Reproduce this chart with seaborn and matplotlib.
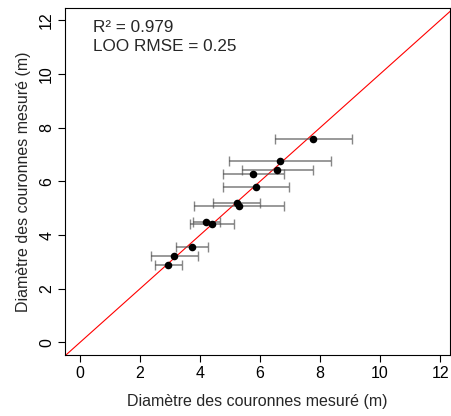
import matplotlib
matplotlib.use("Agg")
import matplotlib.pyplot as plt
import seaborn as sns
import pandas as pd
import numpy as np

measured = [7.78, 6.67, 6.58, 5.78, 5.86, 5.22, 5.31, 4.20, 4.39, 3.74, 3.14, 2.94]
predicted = [7.59, 6.75, 6.43, 6.28, 5.79, 5.19, 5.08, 4.48, 4.41, 3.54, 3.23, 2.88]
err = [1.28, 1.71, 1.17, 1.02, 1.10, 0.78, 1.50, 0.45, 0.73, 0.54, 0.79, 0.45]
ticks = [0, 2, 4, 6, 8, 10, 12]
annot = ["R² = 0.979", "LOO RMSE = 0.25"]
xlabel = "Diamètre des couronnes mesuré (m)"
ylabel = "Diamètre des couronnes mesuré (m)"

df = pd.DataFrame({"measured": measured, "predicted": predicted, "err": err})

sns.set_style("ticks")
plt.rcParams['font.family'] = ['Liberation Sans', 'DejaVu Sans']

fig = plt.figure(figsize=(4.51, 4.16), dpi=100)
ax = fig.add_axes([0.1448, 0.146, 0.853, 0.8355])

ax.plot([-1, 14], [-1, 14], color="red", lw=0.8, zorder=1)
ax.errorbar(df["measured"], df["predicted"], xerr=df["err"], fmt="none",
            ecolor="#555555", alpha=0.7, elinewidth=1.2, capsize=3.8, capthick=1.0, zorder=2)
sns.scatterplot(data=df, x="measured", y="predicted", ax=ax, color="black",
                s=30, edgecolor="black", linewidth=0, zorder=3)

ax.set_xlim(-0.49, 12.33)
ax.set_ylim(-0.48, 12.47)
ax.set_xticks(ticks)
ax.set_yticks(ticks)
ax.tick_params(axis="both", length=5, width=0.8, labelsize=11.5, colors="black", direction="out", pad=3)
for lab in ax.get_yticklabels():
    lab.set_rotation(90)
    lab.set_va("center")
for s in ax.spines.values():
    s.set_visible(True)
    s.set_linewidth(0.8)
    s.set_color("black")
ax.set_xlabel(xlabel, fontsize=11.5, labelpad=9)
ax.set_ylabel(ylabel, fontsize=11.5, labelpad=6)
ax.text(0.072, 0.944, annot[0], transform=ax.transAxes, fontsize=12.3, va="center", ha="left")
ax.text(0.072, 0.887, annot[1], transform=ax.transAxes, fontsize=12.3, va="center", ha="left")

fig.savefig("out.png", dpi=100)
